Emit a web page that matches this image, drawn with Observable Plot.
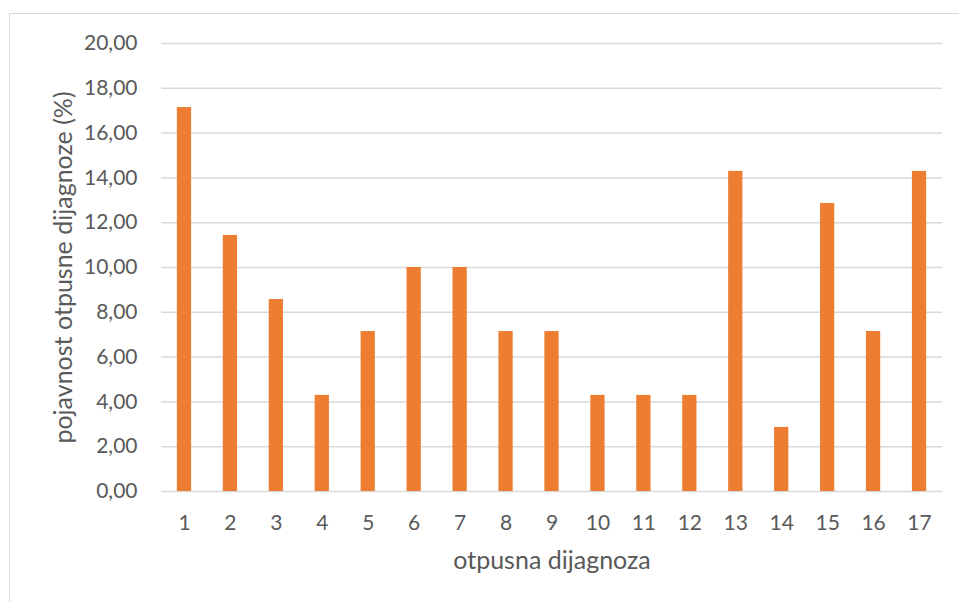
<!DOCTYPE html>
<html>
<head>
<meta charset="utf-8">
<script src="https://cdn.jsdelivr.net/npm/d3@7"></script>
<script src="https://cdn.jsdelivr.net/npm/@observablehq/plot@0.6"></script>
<style>
  html, body { margin: 0; padding: 0; background: #fff; width: 959px; height: 602px; overflow: hidden; }
  #frame { position: absolute; left: 9px; top: 13px; width: 1000px; height: 700px; border: 1.5px solid #d9d9d9; box-sizing: border-box; }
  #chart { position: absolute; left: 0; top: 0; }
</style>
</head>
<body>
<div id="frame"></div>
<div id="chart"></div>
<script>
const categories = ["1","2","3","4","5","6","7","8","9","10","11","12","13","14","15","16","17"];
const values = [17.14, 11.43, 8.57, 4.29, 7.14, 10.00, 10.00, 7.14, 7.14, 4.29, 4.29, 4.29, 14.29, 2.86, 12.86, 7.14, 14.29];
const yTicks = [0, 2, 4, 6, 8, 10, 12, 14, 16, 18, 20];
const xTitle = "otpusna dijagnoza";
const yTitle = "pojavnost otpusne dijagnoze (%)";

const data = categories.map((c, i) => ({cat: c, val: values[i]}));
const fmt = v => v.toFixed(2).replace(".", ",");

const chart = Plot.plot({
  width: 959,
  height: 602,
  marginLeft: 161,
  marginRight: 17,
  marginTop: 43,
  marginBottom: 111,
  style: {fontFamily: "Lato, sans-serif", fontSize: "21px", color: "#595959", background: "transparent"},
  x: {domain: categories, paddingInner: 0.69, paddingOuter: 0.345, round: false},
  y: {domain: [0, 20]},
  marks: [
    Plot.gridY(yTicks, {stroke: "#d9d9d9", strokeOpacity: 1, strokeWidth: 1.5}),
    Plot.barY(data, {x: "cat", y: "val", fill: "#ED7D31"}),
    Plot.axisY(yTicks, {tickSize: 0, tickPadding: 24, tickFormat: fmt, fontSize: 21, label: null, fill: "#595959"}),
    Plot.axisX({tickSize: 0, tickPadding: 24, fontSize: 21, label: null, fill: "#595959"}),
    Plot.text([xTitle], {frameAnchor: "bottom", textAnchor: "middle", lineAnchor: "middle", dy: 69, fontSize: 25, fill: "#595959"}),
    Plot.text([yTitle], {frameAnchor: "left", textAnchor: "middle", lineAnchor: "middle", rotate: -90, dx: -98, fontSize: 25, fill: "#595959"})
  ]
});
document.getElementById("chart").appendChild(chart);
</script>
</body>
</html>
